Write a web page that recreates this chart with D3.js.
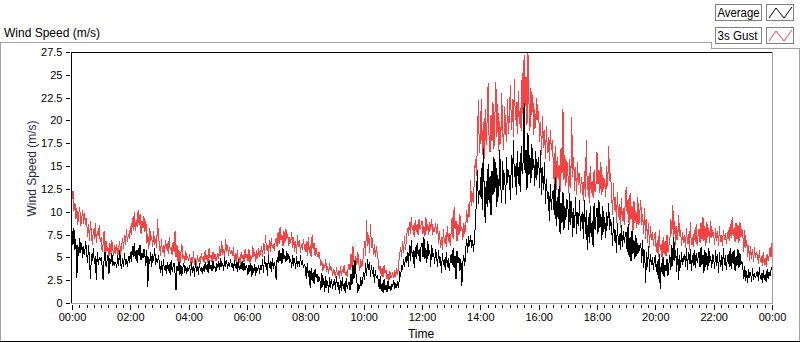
<!DOCTYPE html>
<html><head><meta charset="utf-8">
<script src="https://cdn.jsdelivr.net/npm/d3@7"></script>
<style>
html,body{margin:0;padding:0;background:#fff;}
svg{display:block;font-family:"Liberation Sans",Arial,sans-serif;}
</style></head><body>
<svg id="chart" width="800" height="342"></svg>
<script>
// ---- data (2-minute samples, 00:00 .. 24:00; one row = half an hour) ----
const dayMinutes = 1440;
const seriesNames = ["Average", "3s Gust"];
const seriesColors = ["#000000", "#ff4040"];
const gust = [
11.4,12.3,10.1,11.0,9.2,10.4,8.6,9.8,10.5,8.4,9.3,10.2,8.7,9.9,8.5,
9.3,7.2,8.6,6.8,9.0,7.5,6.4,8.1,7.0,8.8,6.6,7.9,7.3,8.5,6.7,
7.2,5.6,6.4,7.9,5.3,6.8,5.7,6.1,5.0,6.6,5.4,6.9,5.8,5.2,6.3,
5.4,6.5,5.0,5.9,6.8,5.3,6.2,7.1,5.9,7.4,6.4,8.1,6.7,7.6,7.0,
8.4,7.4,9.3,8.0,10.0,7.9,9.1,8.3,10.2,8.6,9.7,7.6,9.0,8.2,9.5,
7.8,9.0,6.6,7.5,5.9,8.2,6.8,7.3,6.1,7.9,6.4,7.0,6.0,9.2,7.2,
6.3,5.2,7.0,5.6,6.4,5.0,6.9,5.9,6.6,5.4,7.2,5.8,6.1,5.3,6.7,
5.6,7.9,5.0,6.3,4.6,5.8,4.3,5.5,6.5,4.8,5.3,4.4,5.7,4.9,5.1,
4.6,5.4,4.1,5.0,4.4,5.7,4.2,4.9,4.0,5.3,4.5,5.0,4.3,5.5,4.7,
5.1,4.4,5.8,4.7,5.3,4.3,6.0,4.9,5.2,4.5,5.6,4.8,5.4,4.6,5.0,
5.5,4.8,6.2,5.1,6.8,5.3,5.9,5.0,7.0,5.6,6.4,5.2,6.1,5.4,5.8,
5.2,6.1,4.7,5.5,4.3,5.8,4.6,5.0,4.2,5.6,4.8,5.3,4.5,5.9,4.9,
5.4,4.6,5.9,4.4,5.2,4.8,6.2,5.0,5.6,4.5,5.8,4.9,6.0,5.1,5.5,
6.2,5.0,6.6,5.4,7.5,5.8,6.4,5.2,6.9,5.6,7.1,6.0,6.5,5.7,6.8,
7.0,6.1,7.8,6.5,8.3,6.9,7.4,6.2,7.9,6.6,8.1,7.0,7.5,6.3,7.2,
6.6,7.8,6.0,7.2,5.6,6.8,5.4,7.5,6.1,6.9,5.5,6.4,5.8,7.0,6.2,
5.6,6.8,5.1,7.2,5.5,6.3,5.0,7.5,5.9,6.6,5.2,6.0,5.4,5.0,5.6,
4.9,4.1,4.6,3.5,4.3,3.8,4.8,3.4,4.0,3.2,4.4,3.6,3.9,3.0,3.7,
3.4,2.8,3.9,3.1,3.6,2.6,4.0,3.0,3.7,3.3,4.2,3.1,3.5,2.9,3.8,
4.3,3.6,5.4,4.0,6.2,4.5,3.8,5.1,4.2,5.6,4.4,3.5,4.8,3.9,4.5,
5.6,6.8,5.1,9.1,6.2,7.4,5.5,8.7,6.0,7.1,5.3,6.5,5.0,6.2,5.4,
4.6,3.5,4.1,3.0,3.8,2.8,4.2,3.3,3.6,2.6,3.2,2.4,3.5,2.7,3.0,
3.3,2.7,3.6,2.9,3.8,3.1,4.5,5.2,6.1,5.0,6.8,5.5,7.3,5.8,7.0,
8.2,7.3,8.9,7.6,9.4,8.0,8.5,7.2,9.1,7.8,8.7,7.5,9.2,8.1,8.6,
9.0,7.6,8.4,7.3,9.4,7.9,8.6,7.4,8.9,8.0,9.2,7.5,8.3,7.8,8.8,
7.6,8.7,6.5,7.9,6.0,7.2,5.8,8.1,6.6,7.4,6.1,8.4,6.8,7.7,6.3,
7.8,9.4,7.0,10.5,8.1,9.0,6.8,8.6,7.4,9.7,7.9,8.3,6.9,8.8,7.6,
8.4,10.2,8.8,10.8,9.4,13.5,10.6,12.0,11.0,14.3,15.8,13.9,17.6,22.2,16.4,
18.0,22.4,16.2,19.8,15.8,21.2,17.3,20.1,24.1,18.0,16.5,20.6,17.8,22.0,16.9,
20.5,24.2,18.2,21.8,16.6,19.9,17.4,23.0,18.8,16.8,21.5,19.0,17.6,22.3,18.5,
21.0,23.9,19.0,22.4,18.2,24.5,20.1,22.0,18.5,23.2,19.6,21.4,18.8,25.2,20.3,
27.2,21.6,24.8,19.5,27.4,22.0,18.8,23.5,20.6,22.8,18.4,21.2,19.2,22.5,20.0,
21.0,17.6,19.8,16.2,20.5,17.0,18.9,15.8,19.4,16.4,18.2,15.6,19.0,16.8,17.8,
15.4,13.0,17.2,12.4,16.0,13.6,15.1,12.2,17.0,14.2,21.3,13.5,16.2,12.8,15.5,
14.4,12.0,15.8,12.6,20.4,13.8,16.0,12.3,14.9,11.8,15.5,12.9,14.2,12.1,13.8,
12.8,11.2,14.5,11.6,17.9,12.4,13.9,11.0,15.0,12.0,13.4,11.5,14.6,12.2,13.0,
16.5,13.0,14.6,12.1,15.4,11.8,14.0,12.5,13.6,11.6,15.0,12.8,17.2,13.4,14.2,
12.0,9.6,13.1,10.2,11.6,8.8,12.2,9.4,10.8,8.2,11.5,9.0,10.4,8.6,11.0,
12.7,9.8,11.4,8.6,12.0,9.2,10.6,7.9,11.2,8.8,10.1,8.2,11.6,8.5,9.8,
11.3,8.5,9.8,7.6,10.4,7.0,9.2,6.6,8.8,6.0,8.4,6.9,7.8,6.3,7.4,
7.6,5.6,6.9,5.0,8.0,5.8,6.5,4.8,7.2,5.4,6.8,5.1,7.5,5.6,6.3,
7.0,9.2,7.6,10.7,7.2,9.0,6.4,8.4,6.9,9.6,7.3,8.0,6.2,7.8,6.6,
7.4,6.0,8.2,6.5,7.6,5.8,8.9,6.4,7.2,6.1,8.0,6.7,8.6,6.2,7.5,
8.1,6.6,8.8,7.0,9.4,6.8,8.4,6.2,8.9,7.2,8.2,6.6,9.0,7.1,7.8,
7.6,6.4,8.2,6.8,7.9,6.3,8.4,6.7,7.4,6.2,8.0,6.9,7.7,6.5,7.2,
8.0,6.8,8.6,7.1,9.4,7.4,8.2,6.7,8.8,7.0,8.5,6.6,8.9,7.2,8.1,
7.4,5.6,8.0,6.0,6.9,5.0,6.4,4.6,6.2,4.8,5.9,4.5,6.1,4.9,5.5,
5.3,4.3,5.8,4.5,5.1,4.1,5.6,4.2,4.9,4.0,5.4,4.6,5.2,6.1,5.0,
6.6];
const average = [
7.9,6.4,8.2,5.8,7.0,2.7,6.4,5.1,7.1,5.5,6.6,4.9,6.2,5.3,6.8,
5.6,4.4,6.3,4.8,2.6,5.4,4.6,6.0,4.3,5.1,2.5,5.6,4.2,5.0,4.7,
5.0,4.1,2.5,4.8,5.6,4.0,4.6,5.2,3.2,4.9,4.3,5.5,4.1,4.6,4.2,
4.5,3.8,5.3,4.1,5.8,4.3,3.7,4.9,4.0,5.5,4.2,4.8,3.9,5.1,4.4,
5.6,4.5,6.2,5.0,6.6,4.8,5.8,4.4,6.0,5.2,6.4,4.7,5.5,4.9,5.9,
5.2,4.1,5.8,1.8,5.0,4.3,5.6,4.0,5.4,4.6,6.0,4.2,4.9,4.4,5.3,
4.2,3.3,4.6,3.0,4.8,3.6,4.1,3.2,4.5,3.5,4.3,3.1,4.7,3.4,4.0,
4.4,3.2,1.4,4.0,3.5,4.6,3.1,4.2,3.0,3.8,4.4,3.3,4.1,3.2,3.9,
3.6,4.2,3.0,4.5,3.3,4.0,2.9,4.7,3.4,4.1,3.1,4.4,3.5,3.9,3.2,
4.1,3.4,4.5,3.6,4.3,3.3,4.7,3.7,4.2,3.5,4.6,3.8,4.0,3.4,4.4,
3.8,4.6,3.6,4.9,3.9,4.4,3.5,5.0,4.0,4.7,3.7,4.5,3.9,4.8,4.1,
4.3,3.5,4.7,3.8,4.5,3.4,4.8,3.6,4.2,3.7,4.6,3.5,4.4,3.6,4.1,
3.8,3.1,4.2,3.4,4.4,2.9,4.0,3.3,4.3,3.0,3.9,3.5,4.1,3.2,4.2,
3.6,4.8,3.3,5.1,3.9,4.4,3.0,5.3,3.8,4.6,3.4,4.9,3.7,4.5,4.0,
2.5,5.0,4.4,5.8,4.6,5.5,4.3,6.0,4.8,5.2,4.5,5.7,4.7,5.4,4.4,
4.8,3.8,5.3,4.1,4.9,3.7,5.1,4.0,4.6,3.9,5.2,4.2,4.7,3.8,4.3,
3.9,2.6,4.4,2.9,3.6,1.6,3.8,2.4,3.4,2.1,3.7,2.8,3.2,2.3,2.9,
2.5,1.4,3.3,1.8,2.7,1.2,2.9,1.6,2.4,1.1,2.8,1.7,2.6,1.5,2.2,
2.6,1.4,2.9,1.8,2.3,1.0,2.5,1.3,2.8,1.5,2.2,1.1,2.7,1.6,2.0,
2.3,1.4,3.2,2.0,4.2,2.6,4.7,3.3,2.4,1.1,2.1,1.5,2.8,1.9,2.6,
3.4,2.5,4.4,3.0,4.8,3.6,4.5,2.9,4.2,3.2,3.9,2.2,3.6,2.7,3.1,
2.5,1.5,2.9,1.3,2.2,1.1,2.6,1.4,2.0,1.2,2.4,1.5,1.9,1.3,2.1,
1.8,2.5,1.5,2.2,1.6,2.4,1.7,3.5,2.8,4.2,3.6,4.8,3.9,5.0,4.4,
5.6,4.0,6.3,4.6,6.9,5.0,5.8,3.8,6.1,4.8,6.6,5.2,5.9,4.5,6.2,
6.6,5.0,7.2,4.8,6.0,4.4,6.8,5.2,5.8,4.0,6.4,5.1,5.5,4.3,5.9,
5.2,3.9,5.8,4.4,5.0,3.3,5.5,4.2,4.8,3.6,5.6,4.0,4.9,3.5,4.6,
5.4,4.2,6.0,3.8,5.2,2.6,5.7,4.4,5.0,3.5,4.8,1.9,4.5,5.2,4.1,
5.9,7.0,5.5,7.3,6.2,7.5,6.0,6.9,5.6,7.2,8.8,11.5,14.6,10.8,12.4,
11.6,14.8,10.2,17.0,12.3,8.8,13.4,10.5,15.2,11.0,13.9,9.6,14.5,11.8,16.0,
12.2,15.4,10.5,14.0,11.6,16.8,12.8,11.0,15.6,12.4,14.2,10.8,16.0,13.1,14.6,
13.5,11.3,16.2,12.6,17.9,13.8,15.0,11.8,16.6,13.0,15.4,12.2,17.2,14.1,15.5,
21.9,14.2,16.8,12.4,18.6,14.0,16.2,13.1,17.4,14.6,15.8,12.8,16.6,13.5,15.2,
16.0,12.6,16.8,11.8,14.9,12.4,15.5,10.8,13.6,11.4,12.2,9.0,13.0,10.2,11.8,
12.4,9.6,13.8,8.4,11.6,9.2,12.8,7.6,11.0,8.8,12.2,8.0,10.6,9.1,11.4,
10.8,8.0,12.0,8.6,11.2,7.2,10.4,8.2,11.6,7.6,10.0,8.4,11.3,7.9,9.6,
9.8,7.0,11.3,7.6,10.2,5.8,9.4,6.6,10.6,7.2,9.0,6.1,11.0,8.0,9.4,
10.4,7.6,11.3,8.2,9.8,6.9,10.6,7.8,9.4,7.1,10.0,8.4,11.0,8.0,9.2,
8.4,6.2,9.4,6.8,8.0,5.5,8.8,6.4,7.6,5.8,8.5,6.1,7.9,6.6,7.4,
7.8,5.6,8.6,5.0,7.2,4.6,7.9,5.4,6.9,4.8,7.4,5.2,6.6,5.5,6.2,
6.6,4.4,6.9,3.8,5.8,2.2,5.6,4.0,6.2,3.4,5.4,4.2,5.0,3.6,4.8,
5.2,3.4,4.6,2.6,5.4,1.5,4.4,3.2,5.0,2.8,4.2,3.5,4.8,3.0,4.3,
5.2,3.6,6.4,4.1,7.2,4.6,5.8,3.4,6.0,2.5,5.3,3.8,5.6,4.2,4.9,
5.4,4.0,6.0,3.6,5.6,4.3,5.9,3.5,5.2,4.1,5.8,3.8,5.5,4.4,5.0,
5.6,3.9,6.1,4.2,5.3,3.3,5.8,4.0,5.5,3.6,6.0,4.4,5.1,3.8,5.4,
5.0,3.7,5.8,4.1,5.4,3.3,5.6,3.9,5.2,3.5,6.0,4.2,5.3,3.6,4.9,
5.4,4.0,6.0,3.7,5.6,4.3,5.8,3.5,5.1,4.1,5.9,3.8,5.5,4.2,4.6,
3.9,2.6,4.0,2.4,3.5,2.2,3.7,2.8,3.4,2.3,3.8,2.5,3.3,2.7,3.1,
3.5,2.4,3.9,2.6,3.3,2.2,3.6,2.5,3.2,2.3,3.7,2.6,3.4,3.0,3.6,
3.9];
const yTicks = [0, 2.5, 5, 7.5, 10, 12.5, 15, 17.5, 20, 22.5, 25, 27.5];
const xTickMinutes = [0, 120, 240, 360, 480, 600, 720, 840, 960, 1080, 1200, 1320, 1440];
const xTickLabels = ["00:00","02:00","04:00","06:00","08:00","10:00","12:00","14:00","16:00","18:00","20:00","22:00","00:00"];
const xMinorStep = 15;
const chartTitle = "Wind Speed (m/s)";
const yAxisTitle = "Wind Speed (m/s)";
const xAxisTitle = "Time";

// ---- drawing ----
const svg = d3.select("#chart");
const L = 72, R = 772, T = 52, B = 303;
const x = d3.scaleLinear().domain([0, dayMinutes]).range([L, R]);
const y = d3.scaleLinear().domain([0, 27.5]).range([B, T]);

// panel frame
const frame = svg.append("g").attr("fill", "none").attr("shape-rendering", "crispEdges");
frame.append("path").attr("d", "M0.5,341 V42.5 H711.5 V48.5 H799.5 V341").attr("stroke", "#a0a0a0");
frame.append("path").attr("d", "M0,341.5 H800").attr("stroke", "#000");

svg.append("text").attr("x", 4).attr("y", 37).attr("font-size", 12).attr("fill", "#000").text(chartTitle);

// clip
svg.append("clipPath").attr("id", "clip").append("rect")
  .attr("x", L).attr("y", T).attr("width", R - L).attr("height", B - T + 1);

const lineFor = arr => d3.line().x((d, i) => x(i * dayMinutes / (arr.length - 1))).y(d => y(d))(arr);
const plots = svg.append("g").attr("clip-path", "url(#clip)").attr("fill", "none").attr("stroke-width", 1)
  .attr("shape-rendering", "crispEdges");
plots.append("path").attr("d", lineFor(gust)).attr("stroke", seriesColors[1]);
plots.append("path").attr("d", lineFor(average)).attr("stroke", seriesColors[0]);

// plot border (3D inset look)
const pb = svg.append("g").attr("fill", "none").attr("shape-rendering", "crispEdges");
pb.append("path").attr("d", `M${L-0.5},${B+1} V${T+0.5} H${R+1}`).attr("stroke", "#000").attr("stroke-width", 1);
pb.append("path").attr("d", `M${L-1},${B+0.5} H${R+0.5} V${T}`).attr("stroke", "#a0a0a0");

// y axis
const yAxis = d3.axisLeft(y).tickValues(yTicks).tickSize(4).tickPadding(3.5)
  .tickFormat(d => d3.format("~g")(d));
const gy = svg.append("g").attr("transform", `translate(${L - 2},0)`).call(yAxis);
gy.select(".domain").remove();
gy.selectAll("text").attr("font-size", 11).attr("font-family", "Liberation Sans, Arial, sans-serif").attr("fill", "#000");
gy.selectAll("line").attr("stroke", "#000").attr("shape-rendering", "crispEdges");

// x axis minor ticks
const minorVals = d3.range(0, dayMinutes + 1, xMinorStep);
const gxm = svg.append("g").attr("transform", `translate(0,${B + 1.5})`)
  .call(d3.axisBottom(x).tickValues(minorVals).tickSize(3).tickFormat(""));
gxm.select(".domain").remove();
gxm.selectAll("line").attr("stroke", "#000").attr("shape-rendering", "crispEdges");
// major
const gx = svg.append("g").attr("transform", `translate(0,${B + 1.5})`)
  .call(d3.axisBottom(x).tickValues(xTickMinutes).tickSize(5).tickPadding(3.5)
    .tickFormat((d, i) => xTickLabels[i]));
gx.select(".domain").remove();
gx.selectAll("line").attr("stroke", "#000").attr("shape-rendering", "crispEdges");
gx.selectAll("text").attr("font-size", 11).attr("font-family", "Liberation Sans, Arial, sans-serif").attr("fill", "#000");

// axis titles
svg.append("text").attr("x", (L + R) / 2 - 1).attr("y", 338).attr("text-anchor", "middle")
  .attr("font-size", 12).attr("fill", "#000").text(xAxisTitle);
svg.append("text").attr("transform", `translate(36,${(T + B) / 2 - 9}) rotate(-90)`)
  .attr("text-anchor", "middle").attr("font-size", 12).attr("fill", "#1c2a4a").text(yAxisTitle);

// legend
const lg = svg.append("g");
const rows = [{name: seriesNames[0], color: seriesColors[0], y0: 4, w: 42}, {name: seriesNames[1], color: seriesColors[1], y0: 27, w: 40}];
rows.forEach(r => {
  lg.append("rect").attr("x", 715.5).attr("y", r.y0 + 0.5).attr("width", 46).attr("height", 16)
    .attr("fill", "#fff").attr("stroke", "#808080").attr("shape-rendering", "crispEdges");
  lg.append("text").attr("x", 717.5).attr("y", r.y0 + 13).attr("font-size", 12).attr("fill", "#000")
    .attr("textLength", r.w).attr("lengthAdjust", "spacingAndGlyphs").text(r.name);
  lg.append("rect").attr("x", 766.5).attr("y", r.y0 + 0.5).attr("width", 27).attr("height", 16)
    .attr("fill", "#fff").attr("stroke", "#808080").attr("shape-rendering", "crispEdges");
  lg.append("polyline").attr("points", `769,${r.y0+14} 776,${r.y0+4} 784,${r.y0+14} 792,${r.y0+3}`)
    .attr("fill", "none").attr("stroke", r.color).attr("stroke-width", 1);
});
</script>
</body></html>
